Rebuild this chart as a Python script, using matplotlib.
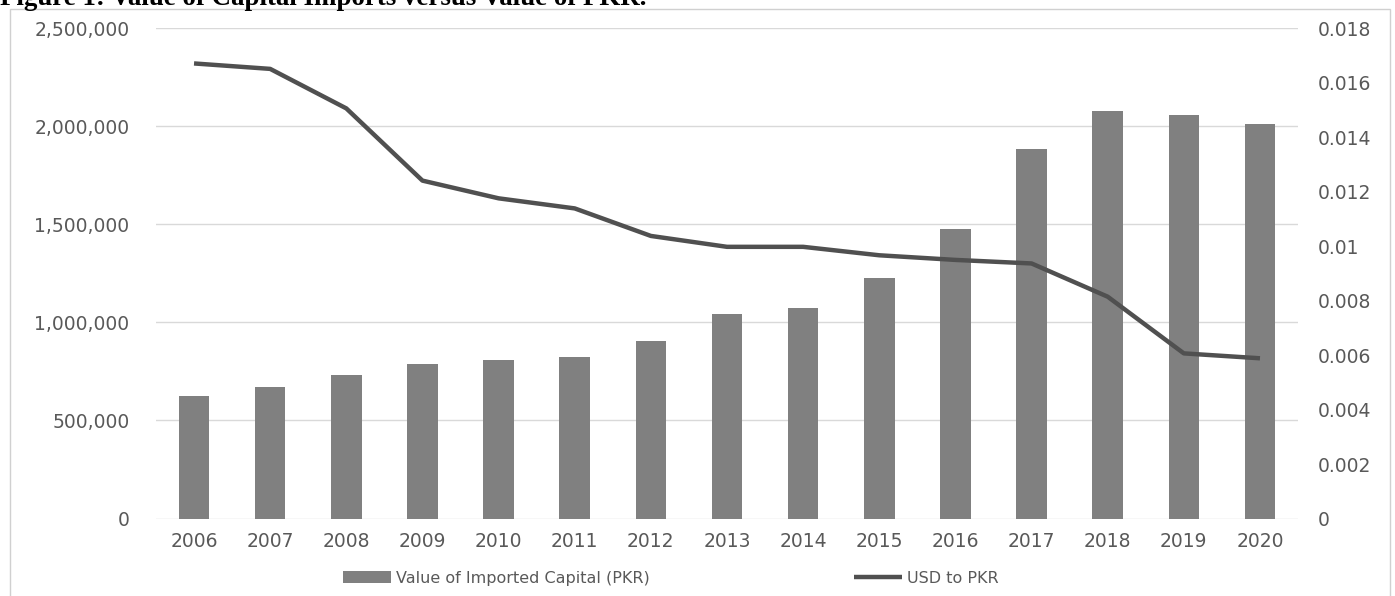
import matplotlib
matplotlib.use("Agg")
import matplotlib.pyplot as plt
from matplotlib.ticker import FuncFormatter, MultipleLocator
from matplotlib.patches import Rectangle

plt.rcParams["font.family"] = ["DejaVu Sans"]

years = ["2006", "2007", "2008", "2009", "2010", "2011", "2012", "2013",
         "2014", "2015", "2016", "2017", "2018", "2019", "2020"]
imported_capital = [626000, 671000, 730000, 789000, 810000, 825000, 904000, 1043000,
                    1075000, 1226000, 1474000, 1883000, 2076000, 2056000, 2011000]
usd_to_pkr = [0.0167, 0.0165, 0.01505, 0.0124, 0.01175, 0.01138, 0.01037, 0.00997,
              0.00997, 0.00966, 0.00949, 0.00936, 0.00814, 0.00606, 0.00588]

label_col = "#595959"
bar_col = "#808080"
line_col = "#505050"

fig = plt.figure(figsize=(13.95, 5.96), dpi=100)
ax = fig.add_axes([0.1118, 0.130, 0.8187, 0.823])

x = range(len(years))
bars = ax.bar(x, imported_capital, width=0.4, color=bar_col, zorder=2,
              label="Value of Imported Capital (PKR)")
ax.set_xlim(-0.5, len(years) - 0.5)
ax.set_ylim(0, 2500000)
ax.yaxis.set_major_locator(MultipleLocator(500000))
ax.yaxis.set_major_formatter(FuncFormatter(lambda v, p: f"{v:,.0f}"))
ax.set_xticks(list(x))
ax.set_xticklabels(years)
ax.grid(axis="y", color="#d9d9d9", linewidth=1, zorder=0)
for s in ax.spines.values():
    s.set_visible(False)
ax.tick_params(axis="y", length=0, pad=19, labelsize=13.5, labelcolor=label_col)
ax.tick_params(axis="x", length=0, pad=10, labelsize=13.5, labelcolor=label_col)

ax2 = ax.twinx()
line, = ax2.plot(x, usd_to_pkr, color=line_col, linewidth=3.2, zorder=3,
                 solid_capstyle="butt", label="USD to PKR")
ax2.set_ylim(0, 0.018)
ax2.yaxis.set_major_locator(MultipleLocator(0.002))
ax2.yaxis.set_major_formatter(FuncFormatter(lambda v, p: f"{round(v, 4):g}"))
for s in ax2.spines.values():
    s.set_visible(False)
ax2.tick_params(axis="y", length=0, pad=14, labelsize=13.5, labelcolor=label_col)

fig.legend([bars, line], ["Value of Imported Capital (PKR)", "USD to PKR"],
           loc="center", bbox_to_anchor=(0.481, 0.03), ncol=2, frameon=False,
           fontsize=11.5, labelcolor=label_col, handlelength=3.0,
           handletextpad=0.3, columnspacing=12.8)

# outer chart frame
fig.patches.append(Rectangle((10 / 1395, -0.1), 1380 / 1395, 1.1 - 9.5 / 596,
                             transform=fig.transFigure, fill=False,
                             edgecolor="#d0d0d0", linewidth=1))

fig.text(0.0, 1 - 5 / 596, "Figure 1: Value of Capital Imports versus Value of PKR.",
         family="Liberation Serif", fontweight="bold", fontsize=19.4,
         va="baseline", ha="left", color="black")

fig.savefig("out.png", dpi=100)
